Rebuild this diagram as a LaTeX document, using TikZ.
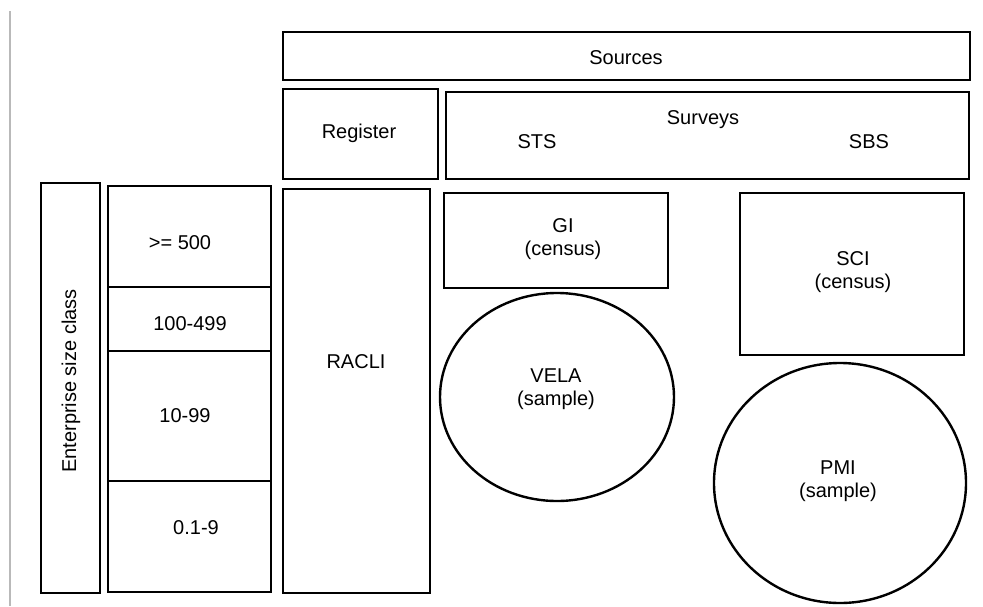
\documentclass[tikz,border=0pt]{standalone}
\usepackage{fontspec}
\setmainfont{Liberation Sans}
\usetikzlibrary{shapes.geometric}
\begin{document}
\begin{tikzpicture}[x=1pt,y=-1pt,
 box/.style={draw, line width=2.7pt, rectangle, inner sep=0pt},
 oval/.style={draw, line width=2.4pt, ellipse, inner sep=0pt},
 lbl/.style={font=\fontsize{20}{23}\selectfont, align=center, inner sep=0pt}]
\useasboundingbox (0,0) rectangle (983,606);
\draw[gray!55, line width=1.5pt] (10,11) coordinate (gt) -- (10,606) coordinate (gb);
% top
\node[box, minimum width=687pt, minimum height=48pt] (sources) at (626.5,56) {};
\node[lbl] (sourcesT) at (626,58) {Sources};
\node[box, minimum width=155pt, minimum height=90pt] (register) at (360.5,134) {};
\node[lbl] (registerT) at (359,133) {Register};
\node[box, minimum width=523pt, minimum height=87pt] (surveys) at (707.5,135.5) {};
\node[lbl] (surveysT) at (703,120) {Surveys};
\node[lbl] (sts) at (537,142) {STS};
\node[lbl] (sbs) at (869,142) {SBS};
% left
\node[box, minimum width=59pt, minimum height=410pt] (esc) at (70.5,388) {};
\node[lbl, rotate=90] (escT) at (71,381) {Enterprise size class};
\node[box, minimum width=163pt, minimum height=101pt] (c1) at (189.5,236.5) {};
\node[lbl] (c1T) at (180,243) {>= 500};
\node[box, minimum width=163pt, minimum height=64pt] (c2) at (189.5,319) {};
\node[lbl] (c2T) at (190,324) {100-499};
\node[box, minimum width=163pt, minimum height=130pt] (c3) at (189.5,416) {};
\node[lbl] (c3T) at (185,416) {10-99};
\node[box, minimum width=163pt, minimum height=111pt] (c4) at (189.5,536.5) {};
\node[lbl] (c4T) at (196,528) {0.1-9};
% register
\node[box, minimum width=147pt, minimum height=404pt] (racli) at (356.5,391) {};
\node[lbl] (racliT) at (356,362) {RACLI};
% surveys
\node[box, minimum width=224pt, minimum height=95pt] (gi) at (556,240.5) {};
\node[lbl] (giT) at (563,239) {GI\\(census)};
\node[box, minimum width=224pt, minimum height=162pt] (sci) at (852,274) {};
\node[lbl] (sciT) at (853,272) {SCI\\(census)};
\node[oval, minimum width=234pt, minimum height=208pt] (vela) at (557,397) {};
\node[lbl] (velaT) at (556,389) {VELA\\(sample)};
\node[oval, minimum width=252pt, minimum height=240pt] (pmi) at (840,483) {};
\node[lbl] (pmiT) at (838,481) {PMI\\(sample)};
\end{tikzpicture}
\end{document}
